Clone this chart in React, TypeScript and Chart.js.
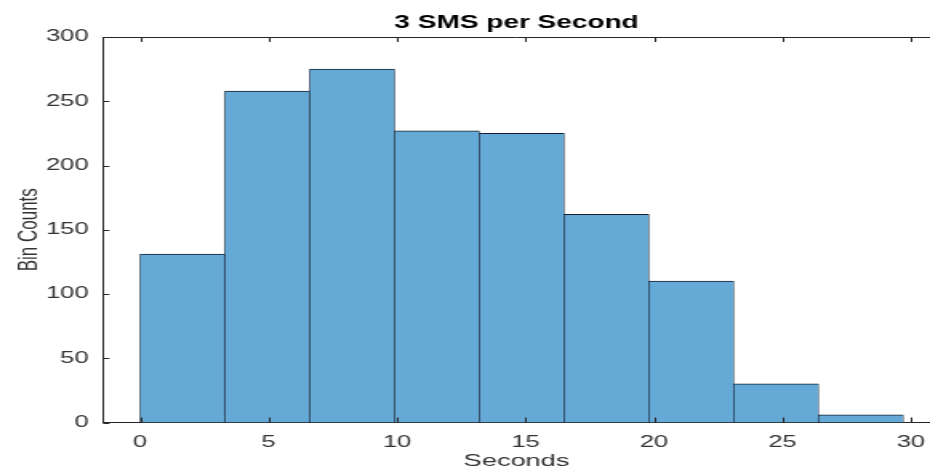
import React, { useEffect, useRef } from "react";
import { Chart, registerables } from "chart.js";

Chart.register(...registerables);

// ---- data ----
const binCenters = [1.65, 4.95, 8.25, 11.55, 14.85, 18.15, 21.45, 24.75, 28.05];
const binCounts = [131, 258, 275, 227, 225, 162, 110, 30, 6];
const xTickValues = [0, 5, 10, 15, 20, 25, 30];
const yTickValues = [0, 50, 100, 150, 200, 250, 300];
const titleText = "3 SMS per Second";
const xLabel = "Seconds";
const yLabel = "Bin Counts";

// ---- layout (internal canvas is stretched horizontally by CSS) ----
const CSS_W = 930;
const CSS_H = 468;
const INNER_W = 581;
const FONT = "'Liberation Sans', Arial, Helvetica, sans-serif";
const AXIS = "#262626";
const TEXT = "#333333";

const innerTicks = {
  id: "innerTicks",
  afterDatasetsDraw(chart: any) {
    const { ctx, chartArea } = chart;
    const { left, right, top, bottom } = chartArea;
    const xs = chart.scales.x;
    const ys = chart.scales.y;
    ctx.save();
    ctx.strokeStyle = AXIS;
    ctx.lineWidth = 1;
    ctx.beginPath();
    ctx.moveTo(left, top + 0.5);
    ctx.lineTo(right, top + 0.5);
    for (const t of xs.ticks) {
      const px = Math.round(xs.getPixelForValue(t.value)) + 0.5;
      ctx.moveTo(px, bottom);
      ctx.lineTo(px, bottom - 5);
      ctx.moveTo(px, top);
      ctx.lineTo(px, top + 5);
    }
    for (const t of ys.ticks) {
      const py = Math.round(ys.getPixelForValue(t.value)) + 0.5;
      ctx.moveTo(left, py);
      ctx.lineTo(left + 4, py);
    }
    ctx.stroke();
    ctx.restore();
  },
};

export default function App() {
  const ref = useRef<HTMLCanvasElement | null>(null);

  useEffect(() => {
    if (!ref.current) return;
    const chart = new Chart(ref.current, {
      type: "bar",
      data: {
        datasets: [
          {
            label: "Bin Counts",
            data: binCenters.map((x, i) => ({ x, y: binCounts[i] })),
            backgroundColor: "#65a9d6",
            borderColor: "#14202f",
            borderWidth: { top: 1, left: 0.6, right: 0.6, bottom: 0 },
            borderSkipped: false,
            barPercentage: 1,
            categoryPercentage: 1,
          },
        ],
      },
      options: {
        responsive: false,
        devicePixelRatio: 1,
        animation: false,
        layout: { padding: 0 },
        plugins: {
          legend: { display: false },
          tooltip: { enabled: false },
          title: {
            display: true,
            text: titleText,
            fullSize: false,
            color: "#000000",
            font: { family: FONT, size: 17.5, weight: "bold" },
            padding: { top: 13, bottom: 3 },
          },
        },
        scales: {
          x: {
            type: "linear",
            min: -1.44,
            max: 30.74,
            offset: false,
            grid: { display: false, offset: false, drawTicks: false },
            border: { display: true, color: AXIS, width: 1 },
            afterBuildTicks: (s: any) => {
              s.ticks = xTickValues.map((v) => ({ value: v }));
            },
            afterFit: (s: any) => {
              s.height = 45.5;
              s.paddingLeft = 0;
              s.paddingRight = 0;
            },
            ticks: {
              color: TEXT,
              font: { family: FONT, size: 16 },
              padding: 10,
              maxRotation: 0,
              autoSkip: false,
              callback: (v: any) => String(v),
            },
            title: {
              display: true,
              text: xLabel,
              color: TEXT,
              font: { family: FONT, size: 17, lineHeight: 0.8 },
              padding: { top: 0, bottom: 0 },
            },
          },
          y: {
            type: "linear",
            min: 0,
            max: 300,
            grid: { display: false, drawTicks: false },
            border: { display: true, color: AXIS, width: 1 },
            afterBuildTicks: (s: any) => {
              s.ticks = yTickValues.map((v) => ({ value: v }));
            },
            afterFit: (s: any) => {
              s.width = 64.4;
              s.paddingTop = 0;
              s.paddingBottom = 0;
            },
            ticks: {
              color: TEXT,
              font: { family: FONT, size: 16 },
              padding: 9,
              autoSkip: false,
              callback: (v: any) => String(v),
            },
            title: {
              display: true,
              text: yLabel,
              color: TEXT,
              font: { family: FONT, size: 17 },
              padding: { top: 8, bottom: 0 },
            },
          },
        },
      },
      plugins: [innerTicks],
    });
    return () => chart.destroy();
  }, []);

  return (
    <div style={{ position: "absolute", left: 0, top: 0, width: CSS_W, height: CSS_H, overflow: "hidden", background: "#fff" }}>
      <canvas
        ref={ref}
        width={INNER_W}
        height={CSS_H}
        style={{ width: CSS_W + "px", height: CSS_H + "px", display: "block" }}
      />
    </div>
  );
}
